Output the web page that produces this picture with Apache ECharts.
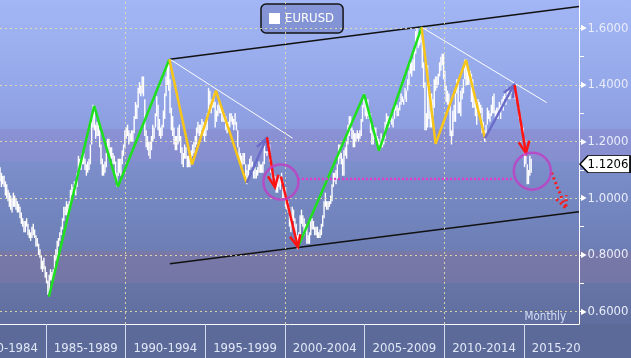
<!DOCTYPE html>
<html><head><meta charset="utf-8">
<script src="https://cdn.jsdelivr.net/npm/echarts@6/dist/echarts.min.js"></script>
<style>html,body{margin:0;padding:0;background:#5b6a98;overflow:hidden}#c{width:631px;height:358px}</style>
</head><body><div id="c"></div>
<script>
// ---- data ----
const startYear = 1982, startMonthIndex = 1; // first bar: Feb 1982
const monthlyHigh = [
/*1982*/ 1.11,1.09,1.08,1.08,1.06,1.05,1.03,1.02,1.01,1.00,1.02,
/*1983*/ 1.01,1.00,0.99,0.98,0.97,0.95,0.93,0.92,0.92,0.93,0.91,0.89,
/*1984*/ 0.88,0.90,0.91,0.89,0.87,0.86,0.84,0.82,0.80,0.78,0.79,0.76,
/*1985*/ 0.74,0.71,0.73,0.75,0.74,0.75,0.80,0.82,0.85,0.86,0.88,0.90,
/*1986*/ 0.93,0.97,0.97,0.99,0.98,0.99,1.03,1.05,1.04,1.06,1.05,1.09,
/*1987*/ 1.15,1.14,1.14,1.16,1.16,1.14,1.12,1.13,1.14,1.19,1.27,1.33,
/*1988*/ 1.32,1.26,1.27,1.26,1.24,1.19,1.14,1.12,1.13,1.16,1.21,1.21,
/*1989*/ 1.18,1.18,1.16,1.15,1.13,1.09,1.14,1.14,1.14,1.17,1.19,1.24,
/*1990*/ 1.25,1.26,1.24,1.23,1.24,1.24,1.29,1.34,1.33,1.39,1.41,1.40,
/*1991*/ 1.43,1.43,1.35,1.24,1.22,1.20,1.20,1.22,1.26,1.25,1.30,1.36,
/*1992*/ 1.33,1.28,1.25,1.26,1.31,1.37,1.43,1.47,1.49,1.42,1.32,1.29,
/*1993*/ 1.25,1.22,1.22,1.25,1.26,1.22,1.18,1.16,1.19,1.18,1.15,1.15,
/*1994*/ 1.15,1.17,1.19,1.20,1.22,1.25,1.27,1.26,1.26,1.28,1.27,1.25,
/*1995*/ 1.27,1.30,1.39,1.38,1.35,1.35,1.37,1.34,1.31,1.33,1.34,1.33,
/*1996*/ 1.32,1.31,1.30,1.29,1.27,1.27,1.30,1.30,1.29,1.28,1.30,1.27,
/*1997*/ 1.24,1.18,1.16,1.15,1.16,1.16,1.12,1.10,1.12,1.14,1.15,1.13,
/*1998*/ 1.11,1.11,1.10,1.11,1.13,1.12,1.12,1.13,1.19,1.21,1.18,1.19,
/*1999*/ 1.19,1.14,1.10,1.09,1.08,1.06,1.08,1.08,1.07,1.09,1.06,1.03,
/*2000*/ 1.04,1.00,0.99,0.97,0.94,0.97,0.96,0.93,0.91,0.87,0.88,0.94,
/*2001*/ 0.96,0.94,0.93,0.91,0.90,0.87,0.88,0.93,0.93,0.92,0.90,0.90,
/*2002*/ 0.90,0.88,0.89,0.91,0.94,0.99,1.02,0.99,0.99,0.99,1.01,1.05,
/*2003*/ 1.09,1.09,1.10,1.12,1.19,1.19,1.16,1.14,1.17,1.18,1.20,1.26,
/*2004*/ 1.29,1.29,1.25,1.24,1.23,1.23,1.24,1.23,1.24,1.28,1.33,1.37,
/*2005*/ 1.35,1.33,1.35,1.31,1.30,1.24,1.23,1.25,1.25,1.22,1.21,1.20,
/*2006*/ 1.23,1.21,1.22,1.27,1.30,1.29,1.29,1.29,1.29,1.28,1.33,1.33,
/*2007*/ 1.33,1.32,1.34,1.37,1.36,1.35,1.39,1.38,1.42,1.45,1.49,1.48,
/*2008*/ 1.49,1.52,1.59,1.60,1.58,1.58,1.60,1.56,1.48,1.41,1.30,1.47,
/*2009*/ 1.41,1.31,1.37,1.35,1.42,1.43,1.43,1.44,1.48,1.50,1.51,1.51,
/*2010*/ 1.45,1.40,1.38,1.37,1.33,1.24,1.31,1.33,1.37,1.42,1.42,1.34,
/*2011*/ 1.38,1.39,1.42,1.49,1.49,1.47,1.45,1.45,1.44,1.42,1.38,1.35,
/*2012*/ 1.32,1.35,1.34,1.33,1.32,1.27,1.24,1.26,1.32,1.31,1.30,1.33,
/*2013*/ 1.36,1.37,1.31,1.32,1.32,1.34,1.33,1.35,1.36,1.38,1.36,1.39,
/*2014*/ 1.38,1.38,1.39,1.39,1.40,1.37,1.37,1.34,1.32,1.29,1.26,1.25,
/*2015*/ 1.21,1.15,1.12,1.10,1.15,1.14
];
const monthlyLow = [
/*1982*/ 1.06,1.04,1.05,1.04,1.01,1.00,0.99,0.97,0.96,0.95,0.97,
/*1983*/ 0.97,0.96,0.95,0.95,0.93,0.91,0.90,0.88,0.88,0.90,0.87,0.86,
/*1984*/ 0.85,0.86,0.87,0.86,0.83,0.83,0.80,0.79,0.75,0.74,0.75,0.72,
/*1985*/ 0.70,0.66,0.67,0.71,0.71,0.72,0.75,0.78,0.77,0.83,0.85,0.87,
/*1986*/ 0.89,0.92,0.94,0.94,0.93,0.96,0.98,1.01,1.01,1.02,1.01,1.04,
/*1987*/ 1.09,1.10,1.10,1.12,1.12,1.10,1.08,1.09,1.10,1.12,1.19,1.25,
/*1988*/ 1.24,1.21,1.22,1.22,1.18,1.12,1.08,1.08,1.09,1.11,1.16,1.16,
/*1989*/ 1.13,1.14,1.12,1.12,1.06,1.04,1.08,1.09,1.08,1.12,1.15,1.18,
/*1990*/ 1.21,1.22,1.19,1.20,1.20,1.20,1.23,1.28,1.28,1.32,1.37,1.36,
/*1991*/ 1.37,1.36,1.22,1.18,1.17,1.15,1.14,1.17,1.20,1.21,1.25,1.29,
/*1992*/ 1.24,1.22,1.21,1.22,1.25,1.28,1.36,1.40,1.38,1.30,1.24,1.22,
/*1993*/ 1.19,1.17,1.17,1.19,1.20,1.16,1.12,1.11,1.14,1.14,1.11,1.11,
/*1994*/ 1.11,1.12,1.15,1.16,1.18,1.19,1.23,1.22,1.22,1.24,1.22,1.20,
/*1995*/ 1.22,1.24,1.30,1.33,1.30,1.32,1.32,1.25,1.27,1.29,1.30,1.30,
/*1996*/ 1.27,1.27,1.27,1.24,1.23,1.24,1.25,1.27,1.26,1.24,1.26,1.24,
/*1997*/ 1.18,1.13,1.12,1.11,1.12,1.12,1.06,1.05,1.07,1.10,1.11,1.09,
/*1998*/ 1.07,1.07,1.07,1.08,1.09,1.09,1.09,1.09,1.12,1.16,1.15,1.16,
/*1999*/ 1.13,1.09,1.07,1.05,1.04,1.02,1.02,1.04,1.03,1.05,1.00,1.00,
/*2000*/ 0.97,0.96,0.95,0.90,0.88,0.92,0.92,0.88,0.85,0.82,0.84,0.87,
/*2001*/ 0.91,0.90,0.87,0.88,0.84,0.84,0.84,0.87,0.89,0.89,0.87,0.87,
/*2002*/ 0.86,0.86,0.86,0.87,0.90,0.93,0.97,0.96,0.96,0.97,0.98,0.99,
/*2003*/ 1.04,1.06,1.05,1.07,1.12,1.14,1.12,1.08,1.08,1.15,1.14,1.19,
/*2004*/ 1.22,1.24,1.21,1.18,1.18,1.20,1.21,1.20,1.21,1.22,1.27,1.32,
/*2005*/ 1.29,1.28,1.29,1.28,1.23,1.19,1.19,1.21,1.20,1.19,1.17,1.17,
/*2006*/ 1.18,1.18,1.19,1.21,1.26,1.25,1.25,1.27,1.26,1.25,1.28,1.31,
/*2007*/ 1.29,1.29,1.31,1.33,1.34,1.33,1.35,1.34,1.38,1.40,1.44,1.43,
/*2008*/ 1.45,1.45,1.51,1.55,1.53,1.54,1.55,1.46,1.39,1.24,1.24,1.25,
/*2009*/ 1.28,1.25,1.25,1.29,1.32,1.38,1.39,1.40,1.43,1.45,1.47,1.42,
/*2010*/ 1.38,1.34,1.33,1.32,1.22,1.19,1.22,1.27,1.27,1.37,1.30,1.30,
/*2011*/ 1.29,1.35,1.37,1.42,1.40,1.40,1.40,1.41,1.34,1.32,1.32,1.29,
/*2012*/ 1.26,1.31,1.30,1.30,1.23,1.24,1.20,1.23,1.26,1.28,1.27,1.29,
/*2013*/ 1.30,1.30,1.28,1.28,1.28,1.30,1.28,1.32,1.31,1.35,1.33,1.35,
/*2014*/ 1.35,1.35,1.37,1.37,1.36,1.35,1.34,1.32,1.28,1.25,1.24,1.21,
/*2015*/ 1.11,1.12,1.05,1.05,1.08,1.09
];
const lastPrice = 1.1206;
const periodStarts = [1980,1985,1990,1995,2000,2005,2010,2015];
const periodLabels = ['1980-1984','1985-1989','1990-1994','1995-1999','2000-2004','2005-2009','2010-2014','2015-2019'];
const decadeLines = [1990,2000,2010];
const yLabelValues = [0.6,0.8,1.0,1.2,1.4,1.6];
const yTickValues = [0.6,0.7,0.8,0.9,1.0,1.1,1.2,1.3,1.4,1.5,1.6];
const xRange = [1982.12, 2018.46];
const yRange = [0.5566, 1.6998];

// annotations (year, price)
const greenWave1 = [[1985.19,0.653],[1988.03,1.326],[1989.52,1.041],[1992.75,1.491]];
const yellowWave1 = [[1992.75,1.491],[1994.17,1.119],[1995.67,1.380],[1997.60,1.054]];
const greenWave2 = [[2000.82,0.828],[2004.98,1.367],[2005.90,1.168],[2008.58,1.6035]];
const yellowWave2 = [[2008.58,1.6035],[2009.46,1.192],[2011.37,1.488],[2012.56,1.212]];
const blueArrows = [[1997.60,1.054,1998.85,1.212],[2012.56,1.212,2014.38,1.400]];
const redArrows = [[1998.88,1.215,1999.38,1.039],[1999.75,1.077,2000.82,0.828],[2014.42,1.400,2015.13,1.159]];
const forecastArrows = [[2016.74,1.090,2017.64,0.965]];
const channelUpper = [[1992.78,1.491],[2018.46,1.677]];
const channelLower = [[1992.78,0.769],[2018.46,0.953]];
const resistance1 = [[1992.78,1.491],[2000.49,1.212]];
const resistance2 = [[2008.58,1.604],[2016.43,1.338]];
const circles = [[1999.75,1.058],[2015.53,1.096]];
const supportLevel = [[2000.82,1.068],[2014.32,1.068]];

// ---- chart ----
const FONT = "'DejaVu Sans Condensed','DejaVu Sans',sans-serif";
const bars = monthlyHigh.map((h, i) => {
  const m = startMonthIndex + i;
  return [startYear + m / 12 + 1 / 24, monthlyLow[i], h];
});
const inRange = v => v >= xRange[0] && v <= xRange[1];

function arrowRenderer(color, dash) {
  return function (params, api) {
    const a = api.coord([api.value(0), api.value(1)]);
    const b = api.coord([api.value(2), api.value(3)]);
    const ang = Math.atan2(b[1] - a[1], b[0] - a[0]);
    const L = 13, s = 0.42;
    const w1 = [b[0] - L * Math.cos(ang - s), b[1] - L * Math.sin(ang - s)];
    const w2 = [b[0] - L * Math.cos(ang + s), b[1] - L * Math.sin(ang + s)];
    const style = { stroke: color, lineWidth: dash ? 3 : 2.5, fill: null, lineDash: dash ? [2, 3] : null };
    return { type: 'group', children: [
      { type: 'line', shape: { x1: a[0], y1: a[1], x2: b[0], y2: b[1] }, style: style },
      { type: 'polyline', shape: { points: [w1, b, w2] }, style: style }
    ]};
  };
}
function plainLine(name, data, color, width, z, type) {
  return { name: name, type: 'line', data: data, symbol: 'none', z: z, silent: true,
    lineStyle: { color: color, width: width, type: type || 'solid' }, animation: false };
}

const chart = echarts.init(document.getElementById('c'), null, { renderer: 'canvas' });
chart.setOption({
  animation: false,
  backgroundColor: { type: 'linear', x: 0, y: 0, x2: 0, y2: 1, colorStops: [
    { offset: 0, color: '#a2b5f5' },
    { offset: 0.12, color: '#9cb0f0' },
    { offset: 0.24, color: '#94a7e8' },
    { offset: 0.36, color: '#8d9ee0' },
    { offset: 0.36, color: '#8a92d5' },
    { offset: 0.45, color: '#868ecf' },
    { offset: 0.45, color: '#7d8fcc' },
    { offset: 0.70, color: '#6c7eb4' },
    { offset: 0.70, color: '#7878a9' },
    { offset: 0.79, color: '#7477a5' },
    { offset: 0.79, color: '#6675a6' },
    { offset: 0.905, color: '#5f6e9f' },
    { offset: 0.905, color: '#5b6a98' },
    { offset: 1, color: '#5b6a98' }
  ]},
  grid: { left: 0, right: 52, top: 0, bottom: 34, containLabel: false, outerBoundsMode: 'none' },
  legend: {
    left: 261, top: 4, padding: [8, 9, 8, 8],
    backgroundColor: 'rgba(80,92,160,0.35)', borderColor: '#151515', borderWidth: 1.5, borderRadius: 5,
    itemWidth: 11, itemHeight: 11, icon: 'rect',
    textStyle: { color: '#ffffff', fontSize: 13, fontFamily: FONT },
    data: [{ name: 'EURUSD', icon: 'rect', itemStyle: { color: '#ffffff' } }]
  },
  xAxis: {
    type: 'value', min: xRange[0], max: xRange[1],
    axisLine: { show: true, lineStyle: { color: '#ffffff', width: 1 } },
    splitLine: { show: false },
    axisTick: { show: true, customValues: periodStarts.filter(inRange), length: 34, lineStyle: { color: '#d4daf0', width: 1 } },
    axisLabel: {
      show: true, customValues: periodStarts.map(s => s + 2.5).filter(inRange), margin: 18,
      color: '#e2e7f7', fontSize: 13, fontFamily: FONT,
      formatter: v => periodLabels[periodStarts.indexOf(Math.round(v - 2.5))] || ''
    }
  },
  yAxis: {
    type: 'value', position: 'right', min: yRange[0], max: yRange[1],
    axisLine: { show: true, lineStyle: { color: '#ffffff', width: 1 } },
    splitLine: { show: false },
    axisTick: { show: true, customValues: yTickValues, length: 5, lineStyle: { color: '#ffffff' } },
    axisLabel: {
      show: true, customValues: yLabelValues, margin: 2,
      formatter: v => '{t|▶}{v|' + v.toFixed(4) + '}',
      rich: {
        t: { color: '#ffffff', fontSize: 8, fontFamily: FONT, padding: [0, 1, 0, 0] },
        v: { color: '#e8ecfa', fontSize: 13, fontFamily: FONT }
      }
    }
  },
  graphic: [
    { type: 'rect', z: 100, shape: { x: 580, y: 325, width: 60, height: 40 }, style: { fill: '#5b6a98' } },
    { type: 'text', z: 100, style: { text: 'Monthly', x: 566, y: 317, align: 'right', verticalAlign: 'middle',
      fill: '#d6ddf5', font: "11.5px 'DejaVu Sans Condensed','DejaVu Sans',sans-serif" } }
  ],
  series: [
    { name: 'grid', type: 'line', data: [], z: 1, silent: true,
      markLine: { silent: true, symbol: 'none', label: { show: false }, animation: false,
        lineStyle: { color: 'rgba(236,226,172,0.85)', width: 1, type: [2, 3] },
        data: yLabelValues.map(v => ({ yAxis: v })).concat(decadeLines.map(v => ({ xAxis: v }))) } },
    plainLine('upper', channelUpper, '#111111', 1.5, 2),
    plainLine('lower', channelLower, '#111111', 1.5, 2),
    plainLine('res1', resistance1, '#ffffff', 1, 2),
    plainLine('res2', resistance2, '#ffffff', 1, 2),
    { name: 'EURUSD', type: 'custom', data: bars, z: 3, silent: true, itemStyle: { color: '#ffffff' },
      renderItem: function (params, api) {
        const p1 = api.coord([api.value(0), api.value(1)]);
        const p2 = api.coord([api.value(0), api.value(2)]);
        return { type: 'line', shape: { x1: p1[0], y1: p1[1], x2: p2[0], y2: p2[1] },
          style: { stroke: '#ffffff', lineWidth: 1.4 } };
      } },
    plainLine('g1', greenWave1, '#1ee01e', 2.5, 5),
    plainLine('y1', yellowWave1, '#f7c51a', 2.5, 5),
    plainLine('g2', greenWave2, '#1ee01e', 2.5, 5),
    plainLine('y2', yellowWave2, '#f7c51a', 2.5, 5),
    { name: 'blueArrows', type: 'custom', data: blueArrows, z: 6, silent: true, renderItem: arrowRenderer('#6a6cc8') },
    { name: 'redArrows', type: 'custom', data: redArrows, z: 6, silent: true, renderItem: arrowRenderer('#ff1212') },
    { name: 'forecast', type: 'custom', data: forecastArrows, z: 6, silent: true, renderItem: arrowRenderer('#ff1a1a', true) },
    plainLine('support', supportLevel, '#e03cc8', 2.5, 5, [2, 2]),
    { name: 'circles', type: 'scatter', data: circles, z: 6, silent: true, clip: false,
      symbol: 'circle', symbolSize: (v, p) => p.dataIndex === 0 ? 35 : 37,
      itemStyle: { color: 'rgba(0,0,0,0)', borderColor: '#c23cc4', borderWidth: 2.5 },
      markPoint: { silent: true, animation: false,
        data: [{ coord: [xRange[1], lastPrice], value: lastPrice }],
        symbol: 'path://M0,8 L8,0 L50,0 L50,16 L8,16 Z', symbolSize: [50, 17], symbolOffset: [26, 0],
        symbolKeepAspect: false,
        itemStyle: { color: '#ffffff', borderColor: '#000000', borderWidth: 1 },
        label: { show: true, position: 'inside', offset: [3, 0], color: '#000000', fontSize: 13, fontFamily: FONT,
          formatter: () => lastPrice.toFixed(4) } } }
  ]
});
</script></body></html>
